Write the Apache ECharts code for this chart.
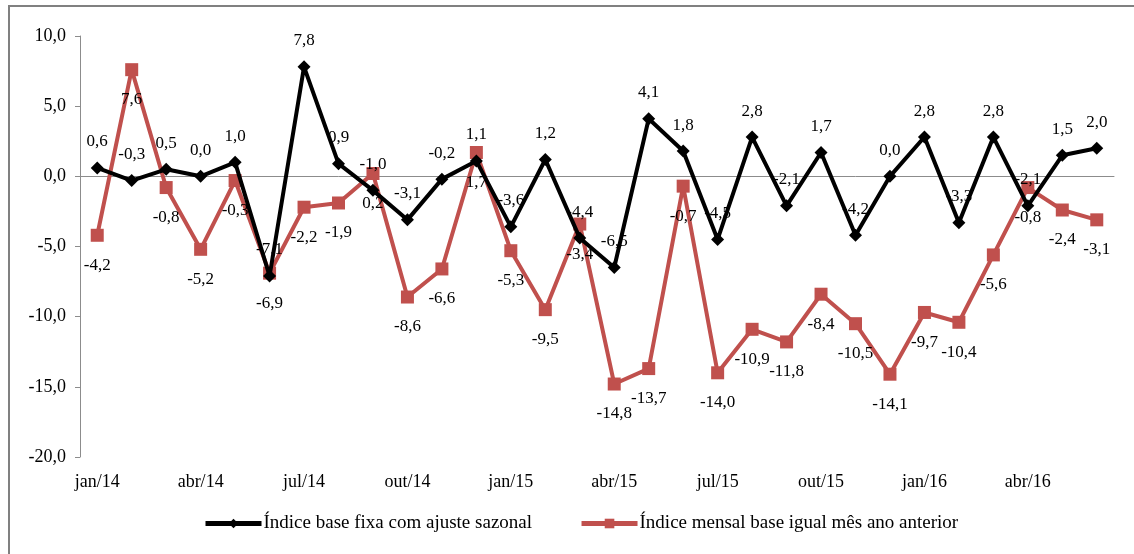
<!DOCTYPE html>
<html>
<head>
<meta charset="utf-8">
<script src="https://cdn.jsdelivr.net/npm/echarts@6/dist/echarts.min.js"></script>
<style>
  html, body { margin: 0; padding: 0; background: #fff; }
  #chart { width: 1134px; height: 554px; }
</style>
</head>
<body>
<div id="chart"></div>
<script>
// months shown on the category axis
var months = ['jan/14','fev/14','mar/14','abr/14','mai/14','jun/14','jul/14','ago/14','set/14','out/14','nov/14','dez/14',
              'jan/15','fev/15','mar/15','abr/15','mai/15','jun/15','jul/15','ago/15','set/15','out/15','nov/15','dez/15',
              'jan/16','fev/16','mar/16','abr/16','mai/16','jun/16'];

// Índice base fixa com ajuste sazonal
var baseFixa = [0.6, -0.3, 0.5, 0.0, 1.0, -7.1, 7.8, 0.9, -1.0, -3.1, -0.2, 1.1,
                -3.6, 1.2, -4.4, -6.5, 4.1, 1.8, -4.5, 2.8, -2.1, 1.7, -4.2, 0.0,
                2.8, -3.3, 2.8, -2.1, 1.5, 2.0];

// Índice mensal base igual mês ano anterior
var mensal = [-4.2, 7.6, -0.8, -5.2, -0.3, -6.9, -2.2, -1.9, 0.2, -8.6, -6.6, 1.7,
              -5.3, -9.5, -3.4, -14.8, -13.7, -0.7, -14.0, -10.9, -11.8, -8.4, -10.5, -14.1,
              -9.7, -10.4, -5.6, -0.8, -2.4, -3.1];

var yTicks = { min: -20, max: 10, interval: 5 };

function fmt(v) {
  return Number(v).toFixed(1).replace('.', ',');
}

var font = 'Liberation Serif';
var chart = echarts.init(document.getElementById('chart'));

var option = {
  animation: false,
  textStyle: { fontFamily: font },
  graphic: [{
    type: 'rect',
    shape: { x: 9, y: 6, width: 1140, height: 560 },
    style: { fill: 'none', stroke: '#808080', lineWidth: 2 },
    silent: true
  }],
  grid: { left: 80, right: 20, top: 36, bottom: 97 },
  legend: {
    bottom: 16,
    left: 198,
    itemWidth: 56,
    itemHeight: 12,
    itemGap: 47,
    textStyle: { fontFamily: font, fontSize: 19, color: '#000', padding: [0, 0, 0, -3] },
    data: [
      { name: 'Índice base fixa com ajuste sazonal', lineStyle: { width: 5 } },
      { name: 'Índice mensal base igual mês ano anterior', lineStyle: { width: 5 } }
    ]
  },
  xAxis: [{
    type: 'category',
    data: months,
    position: 'bottom',
    axisLine: { show: false, onZero: false },
    axisTick: { show: false },
    axisLabel: { interval: 2, margin: 16, fontFamily: font, fontSize: 18, color: '#000' }
  }, {
    type: 'category',
    data: months,
    axisLine: { onZero: true, lineStyle: { color: '#8c8c8c', width: 1 } },
    axisTick: { interval: 2, length: 5, lineStyle: { color: '#8c8c8c' } },
    axisLabel: { show: false }
  }],
  yAxis: {
    type: 'value',
    min: yTicks.min,
    max: yTicks.max,
    interval: yTicks.interval,
    splitLine: { show: false },
    axisLine: { show: true, lineStyle: { color: '#8c8c8c' } },
    axisTick: { show: true, length: 5, lineStyle: { color: '#8c8c8c' } },
    axisLabel: { formatter: fmt, margin: 14, fontFamily: font, fontSize: 18, color: '#000' }
  },
  series: [{
    name: 'Índice base fixa com ajuste sazonal',
    type: 'line',
    data: baseFixa,
    symbol: 'diamond',
    symbolSize: 13,
    z: 3,
    lineStyle: { color: '#000', width: 4 },
    itemStyle: { color: '#000' },
    label: {
      show: true, position: 'top', distance: 11,
      formatter: function (p) { return fmt(p.value); },
      fontFamily: font, fontSize: 17, color: '#000'
    }
  }, {
    name: 'Índice mensal base igual mês ano anterior',
    type: 'line',
    data: mensal,
    symbol: 'rect',
    symbolSize: 13,
    z: 2,
    lineStyle: { color: '#c0504d', width: 4 },
    itemStyle: { color: '#c0504d' },
    label: {
      show: true, position: 'bottom', distance: 15,
      formatter: function (p) { return fmt(p.value); },
      fontFamily: font, fontSize: 17, color: '#000'
    }
  }]
};

chart.setOption(option);
</script>
</body>
</html>
